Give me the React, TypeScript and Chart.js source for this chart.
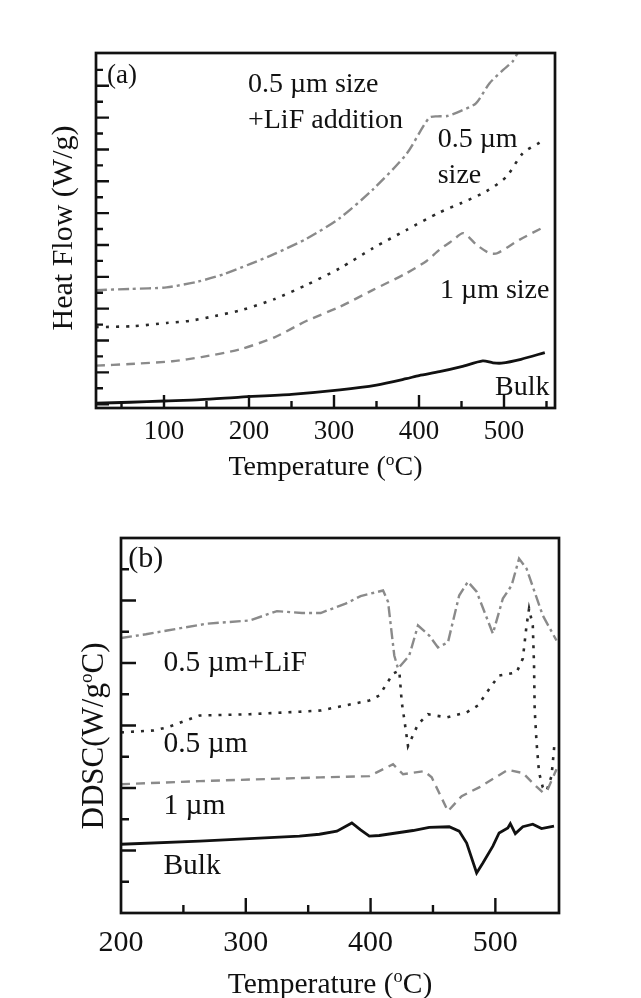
import React, { useEffect, useRef } from "react";
import { Chart, registerables } from "chart.js";

Chart.register(...registerables);

const FONT = '"Liberation Serif", "Times New Roman", serif';

// ---------- Panel (a): Heat Flow vs Temperature ----------
const A_BULK: [number, number][] = [
  [20, 0.03], [60, 0.06], [100, 0.1], [143, 0.14], [190, 0.22], [250, 0.31], [307, 0.45],
  [350, 0.6], [385, 0.8], [400, 0.9], [424, 1.02], [450, 1.18], [475, 1.36], [487, 1.3],
  [497, 1.29], [520, 1.41], [548, 1.62],
];
const A_1UM: [number, number][] = [
  [20, 1.21], [60, 1.26], [110, 1.35], [144, 1.48], [189, 1.72], [230, 2.1], [268, 2.62],
  [307, 3.06], [346, 3.59], [385, 4.11], [409, 4.5], [424, 4.85], [440, 5.15], [452, 5.37],
  [468, 5.0], [483, 4.74], [492, 4.74], [518, 5.16], [548, 5.58],
];
const A_05UM: [number, number][] = [
  [20, 2.42], [64, 2.45], [103, 2.55], [131, 2.62], [160, 2.77], [193, 2.97], [230, 3.3],
  [268, 3.75], [307, 4.27], [346, 4.9], [385, 5.47], [424, 6.02], [450, 6.32], [479, 6.68],
  [503, 7.15], [522, 7.88], [542, 8.22],
];
const A_05UM_LIF: [number, number][] = [
  [20, 3.58], [60, 3.62], [103, 3.67], [140, 3.85], [170, 4.08], [201, 4.4], [230, 4.72],
  [268, 5.2], [307, 5.85], [346, 6.75], [385, 7.85], [412, 9.0], [422, 9.04], [433, 9.05],
  [450, 9.22], [467, 9.45], [483, 10.08], [499, 10.5], [510, 10.76], [516, 11.02], [530, 11.5],
];
const A_X_LABELS = [100, 200, 300, 400, 500];
const A_X_MINOR = [50, 150, 250, 350, 450, 550];
const A_Y_MAJOR = [0, 1, 2, 3, 4, 5, 6, 7, 8, 9, 10];
const A_Y_MINOR = [0.5, 1.5, 2.5, 3.5, 4.5, 5.5, 6.5, 7.5, 8.5, 9.5, 10.5];

// ---------- Panel (b): DDSC vs Temperature ----------
const B_BULK: [number, number][] = [
  [200, 1.1], [263, 1.15], [343, 1.23], [359, 1.26], [373, 1.31], [385, 1.44], [392, 1.33],
  [399, 1.23], [407, 1.24], [434, 1.32], [447, 1.37], [463, 1.38], [471, 1.31], [477, 1.12],
  [485, 0.64], [490, 0.8], [498, 1.07], [503, 1.28], [510, 1.36], [512, 1.43], [516, 1.27],
  [522, 1.38], [530, 1.42], [537, 1.35], [547, 1.39],
];
const B_1UM: [number, number][] = [
  [200, 2.06], [263, 2.11], [360, 2.17], [399, 2.19], [407, 2.27], [418, 2.38], [426, 2.22],
  [443, 2.27], [449, 2.17], [462, 1.63], [473, 1.87], [487, 2.01], [510, 2.29], [522, 2.24],
  [533, 2.02], [538, 1.93], [542, 1.98], [549, 2.3],
];
const B_05UM: [number, number][] = [
  [200, 2.89], [226, 2.92], [237, 2.97], [263, 3.16], [303, 3.18], [343, 3.22], [360, 3.24],
  [399, 3.4], [407, 3.48], [418, 3.83], [423, 3.88], [425, 3.37], [427, 3.1], [430, 2.67],
  [438, 3.02], [446, 3.18], [461, 3.13], [477, 3.21], [486, 3.32], [497, 3.64], [503, 3.8],
  [517, 3.85], [522, 4.07], [525, 4.6], [527, 4.87], [530, 4.6], [531, 3.96], [531.5, 3.26],
  [533, 2.73], [535, 2.25], [538, 2.01], [541, 1.95], [545, 2.19], [547.5, 2.73],
];
const B_05UM_LIF: [number, number][] = [
  [200, 4.4], [220, 4.46], [237, 4.52], [269, 4.63], [303, 4.68], [325, 4.83], [345, 4.8],
  [360, 4.8], [380, 4.95], [392, 5.07], [410, 5.16], [414, 4.98], [419, 4.12], [422, 3.91],
  [431, 4.12], [438, 4.6], [447, 4.44], [454, 4.25], [462, 4.33], [471, 5.08], [478, 5.3],
  [485, 5.14], [498, 4.47], [506, 5.03], [513, 5.24], [519, 5.67], [525, 5.51], [538, 4.76],
  [549, 4.36],
];
const B_X_LABELS = [200, 300, 400, 500];
const B_X_MINOR = [250, 350, 450];
const B_Y_MAJOR = [1, 2, 3, 4, 5];
const B_Y_MINOR = [0.5, 1.5, 2.5, 3.5, 4.5, 5.5];

type Label = { text: string; x: number; y: number; size: number };
type Title = { pre: string; sup: string; post: string; size: number; dx: number; dy: number };

type Panel = {
  width: number;
  height: number;
  top: number; // canvas page offset
  area: { left: number; top: number; right: number; bottom: number };
  xMin: number; xMax: number; yMin: number; yMax: number;
  xLabels: number[]; xMinor: number[]; yMajor: number[]; yMinor: number[];
  majorLen: number; minorLen: number;
  tickFont: number; tickPad: number;
  tension: number;
  series: { data: [number, number][]; color: string; width: number; dash: number[] }[];
  labels: Label[];
  xTitle: Title;
  yTitle: Title;
};

const GRAY = "#8a8a8a";
const DARK = "#2a2a2a";

const PANEL_A: Panel = {
  width: 641, height: 499, top: 0,
  area: { left: 96, top: 53, right: 555, bottom: 408 },
  xMin: 20, xMax: 560, yMin: -0.12, yMax: 11.03,
  xLabels: A_X_LABELS, xMinor: A_X_MINOR, yMajor: A_Y_MAJOR, yMinor: A_Y_MINOR,
  majorLen: 13, minorLen: 7, tickFont: 27, tickPad: 8, tension: 0.25,
  series: [
    { data: A_BULK, color: "#111111", width: 2.8, dash: [] },
    { data: A_1UM, color: GRAY, width: 2.4, dash: [9, 6] },
    { data: A_05UM, color: DARK, width: 2.6, dash: [3, 7] },
    { data: A_05UM_LIF, color: GRAY, width: 2.4, dash: [11, 4, 3, 4] },
  ],
  labels: [
    { text: "(a)", x: 33, y: 10.08, size: 27 },
    { text: "0.5 \u00b5m size", x: 198.8, y: 9.8, size: 28 },
    { text: "+LiF addition", x: 198.8, y: 8.67, size: 28 },
    { text: "0.5 \u00b5m", x: 422, y: 8.08, size: 28 },
    { text: "size", x: 422, y: 6.95, size: 28 },
    { text: "1 \u00b5m size", x: 424.7, y: 3.33, size: 28 },
    { text: "Bulk", x: 489.4, y: 0.29, size: 28 },
  ],
  xTitle: { pre: "Temperature (", sup: "o", post: "C)", size: 28, dx: 0, dy: 67 },
  yTitle: { pre: "Heat Flow (W/g)", sup: "", post: "", size: 30, dx: -24, dy: -2.5 },
};

const PANEL_B: Panel = {
  width: 641, height: 499, top: 499,
  area: { left: 121, top: 39, right: 559, bottom: 414 },
  xMin: 200, xMax: 551, yMin: 0, yMax: 6,
  xLabels: B_X_LABELS, xMinor: B_X_MINOR, yMajor: B_Y_MAJOR, yMinor: B_Y_MINOR,
  majorLen: 15, minorLen: 8, tickFont: 30, tickPad: 12, tension: 0,
  series: [
    { data: B_BULK, color: "#111111", width: 2.8, dash: [] },
    { data: B_1UM, color: GRAY, width: 2.4, dash: [9, 6] },
    { data: B_05UM, color: DARK, width: 2.6, dash: [3, 7] },
    { data: B_05UM_LIF, color: GRAY, width: 2.4, dash: [11, 4, 3, 4] },
  ],
  labels: [
    { text: "(b)", x: 205.8, y: 5.53, size: 30 },
    { text: "0.5 \u00b5m+LiF", x: 234, y: 3.88, size: 29.5 },
    { text: "0.5 \u00b5m", x: 234, y: 2.57, size: 29.5 },
    { text: "1 \u00b5m", x: 234, y: 1.58, size: 29.5 },
    { text: "Bulk", x: 234, y: 0.62, size: 29.5 },
  ],
  xTitle: { pre: "Temperature (", sup: "o", post: "C)", size: 29.5, dx: -10, dy: 80 },
  yTitle: { pre: "DDSC(W/g", sup: "o", post: "C)", size: 31, dx: -18, dy: 10.5 },
};

function drawTitle(ctx: CanvasRenderingContext2D, t: Title) {
  const main = `${t.size}px ${FONT}`;
  const supSize = t.size * 0.62;
  const sup = `${supSize}px ${FONT}`;
  ctx.font = main;
  const w1 = ctx.measureText(t.pre).width;
  const w3 = ctx.measureText(t.post).width;
  ctx.font = sup;
  const w2 = t.sup ? ctx.measureText(t.sup).width : 0;
  const total = w1 + w2 + w3;
  let x = -total / 2;
  ctx.textAlign = "left";
  ctx.textBaseline = "alphabetic";
  ctx.font = main;
  ctx.fillText(t.pre, x, 0);
  x += w1;
  if (t.sup) {
    ctx.font = sup;
    ctx.fillText(t.sup, x, -t.size * 0.36);
    x += w2;
  }
  ctx.font = main;
  ctx.fillText(t.post, x, 0);
}

function makeDecor(p: Panel) {
  return {
    id: "decor",
    afterDraw(chart: any) {
      const { ctx, chartArea } = chart;
      const xs = chart.scales.x;
      const ys = chart.scales.y;
      const { left, right, top, bottom } = chartArea;
      ctx.save();
      ctx.strokeStyle = "#111";
      ctx.lineWidth = 2.4;
      ctx.lineCap = "butt";
      ctx.beginPath();
      const tick = (vals: number[], len: number) => {
        for (const v of vals) {
          const px = xs.getPixelForValue(v);
          ctx.moveTo(px, bottom);
          ctx.lineTo(px, bottom - len);
        }
      };
      tick(p.xLabels.filter((v) => v > p.xMin), p.majorLen);
      tick(p.xMinor, p.minorLen);
      const ytick = (vals: number[], len: number) => {
        for (const v of vals) {
          const py = ys.getPixelForValue(v);
          ctx.moveTo(left, py);
          ctx.lineTo(left + len, py);
        }
      };
      ytick(p.yMajor, p.majorLen);
      ytick(p.yMinor, p.minorLen);
      ctx.stroke();
      ctx.lineWidth = 2.7;
      ctx.strokeRect(left, top, right - left, bottom - top);

      ctx.fillStyle = "#111";
      ctx.textAlign = "left";
      ctx.textBaseline = "alphabetic";
      for (const l of p.labels) {
        ctx.font = `${l.size}px ${FONT}`;
        ctx.fillText(l.text, xs.getPixelForValue(l.x), ys.getPixelForValue(l.y));
      }

      ctx.save();
      ctx.translate((left + right) / 2 + p.xTitle.dx, bottom + p.xTitle.dy);
      drawTitle(ctx, p.xTitle);
      ctx.restore();

      ctx.save();
      ctx.translate(left + p.yTitle.dx, (top + bottom) / 2 + p.yTitle.dy);
      ctx.rotate(-Math.PI / 2);
      drawTitle(ctx, p.yTitle);
      ctx.restore();

      ctx.restore();
    },
  };
}

function PanelChart({ p }: { p: Panel }) {
  const ref = useRef<HTMLCanvasElement | null>(null);
  useEffect(() => {
    if (!ref.current) return;
    const chart = new Chart(ref.current, {
      type: "line",
      data: {
        datasets: p.series.map((s) => ({
          data: s.data.map(([x, y]) => ({ x, y })),
          borderColor: s.color,
          borderWidth: s.width,
          borderDash: s.dash,
          borderCapStyle: "butt",
          pointRadius: 0,
          fill: false,
          tension: p.tension,
        })),
      },
      options: {
        animation: false,
        responsive: false,
        maintainAspectRatio: false,
        devicePixelRatio: 1,
        layout: {
          padding: {
            left: 0,
            top: p.area.top,
            right: p.width - p.area.right,
            bottom: 0,
          },
        },
        plugins: { legend: { display: false }, tooltip: { enabled: false } },
        scales: {
          x: {
            type: "linear",
            min: p.xMin,
            max: p.xMax,
            afterBuildTicks: (s: any) => {
              s.ticks = p.xLabels.map((v) => ({ value: v }));
            },
            afterFit: (s: any) => {
              s.height = p.height - p.area.bottom;
            },
            grid: { display: false, drawTicks: false },
            border: { display: false },
            ticks: {
              autoSkip: false,
              maxRotation: 0,
              padding: p.tickPad,
              color: "#111",
              font: { family: FONT, size: p.tickFont },
              callback: (v: any) => String(v),
            },
          },
          y: {
            type: "linear",
            min: p.yMin,
            max: p.yMax,
            afterFit: (s: any) => {
              s.width = p.area.left;
            },
            grid: { display: false, drawTicks: false },
            border: { display: false },
            ticks: { display: false },
          },
        },
      },
      plugins: [makeDecor(p)],
    } as any);
    return () => chart.destroy();
  }, [p]);
  return (
    <canvas
      ref={ref}
      width={p.width}
      height={p.height}
      style={{ position: "absolute", left: 0, top: p.top, width: p.width, height: p.height }}
    />
  );
}

export default function App() {
  return (
    <div style={{ position: "absolute", left: 0, top: 0, width: 641, height: 998, background: "#fff", overflow: "hidden" }}>
      <PanelChart p={PANEL_A} />
      <PanelChart p={PANEL_B} />
    </div>
  );
}
